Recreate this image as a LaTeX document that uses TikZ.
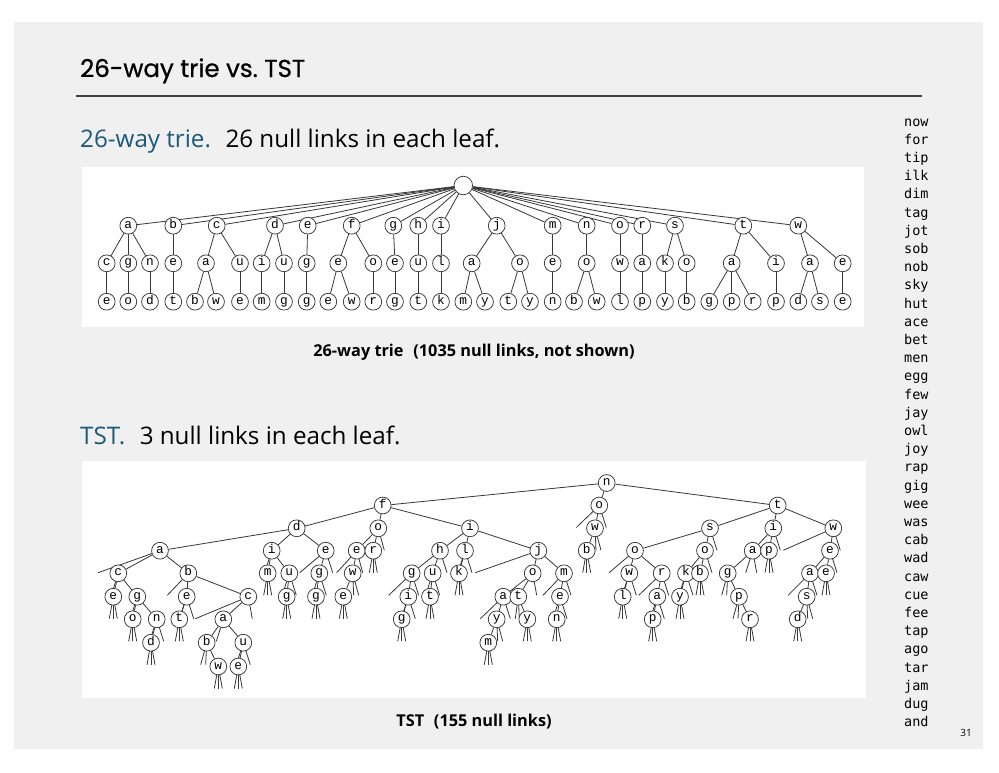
\documentclass[tikz,border=0pt]{standalone}
\usepackage{fontspec}
\setmainfont{Open Sans}
\newfontfamily\titlefont[FakeBold=0.8]{Poppins}
\newfontfamily\letterfont{Liberation Mono}
\newfontfamily\wordfont{DejaVu Sans Mono}

\definecolor{slidegray}{RGB}{240,240,240}
\definecolor{headblue}{RGB}{30,88,122}
\definecolor{linkgray}{RGB}{55,55,55}

\pgfdeclarelayer{panel}
\pgfdeclarelayer{links}
\pgfsetlayers{panel,links,main}

\tikzset{
    keynode/.style={circle, draw=linkgray, fill=white, line width=0.75pt, inner sep=0pt,
        minimum size=16.8pt, text height=1.1ex, text depth=0.1ex,
        font=\letterfont\fontsize{12.8}{12.8}\selectfont},
    link/.style={draw=linkgray, line width=0.8pt},
    headline/.style={anchor=base west, inner sep=0pt, font=\fontsize{24.2}{24.2}\selectfont},
    caption/.style={anchor=base, inner sep=0pt, font=\bfseries\fontsize{16.3}{16.3}\selectfont},
}

\begin{document}
\begin{tikzpicture}[x=1pt, y=-1pt]
    \useasboundingbox (0,0) rectangle (999,772);
    \begin{pgfonlayer}{panel}
        \fill[slidegray] (14,22) rectangle (983,749);
        \fill[white] (82,167) rectangle (864,327);
        \fill[white] (82,461) rectangle (866,698);
    \end{pgfonlayer}

    % title and headings
    \node[anchor=base west, inner sep=0pt, font=\titlefont\fontsize{24.5}{24.5}\selectfont] (title) at (80,77) {26-way trie vs.\ TST};
    \draw[line width=1.2pt, black!75] (76,96) -- (922,96);
    \node[headline] (triehead) at (80,147) {\textcolor{headblue}{26-way trie.}\hspace{0.6em}26 null links in each leaf.};
    \node[caption] (triecap) at (474,356) {26-way trie\hspace{0.6em}(1035 null links, not shown)};
    \node[headline] (tsthead) at (80,444) {\textcolor{headblue}{TST.}\hspace{0.6em}3 null links in each leaf.};
    \node[caption] (tstcap) at (474,726) {TST\hspace{0.6em}(155 null links)};

    % keys, in insertion order
    \foreach \w [count=\k from 0] in {now,for,tip,ilk,dim,tag,jot,sob,nob,sky,hut,ace,bet,men,egg,few,jay,owl,joy,rap,gig,wee,was,cab,wad,caw,cue,fee,tap,ago,tar,jam,dug,and}
        \node[anchor=base west, inner sep=0pt, font=\wordfont\fontsize{13.5}{13.5}\selectfont] (key\k) at ({904},{126+18.2*\k}) {\w};
    \node[anchor=base, inner sep=0pt, font=\fontsize{10}{10}\selectfont] (pageno) at (966,736) {31};

    % 26-way trie
    \node[keynode, minimum size=18.5pt] (tr-root) at (463.3,185.5) {};
    \foreach \n/\x/\l in {tr-a/128.3/a, tr-b/173.3/b, tr-c/216.7/c, tr-d/275/d, tr-e/307.7/e,
        tr-f/351.7/f, tr-g/393.3/g, tr-h/418.3/h, tr-i/441/i, tr-j/496.7/j, tr-m/552.7/m,
        tr-n/586.7/n, tr-o/620/o, tr-r/642.3/r, tr-s/675/s, tr-t/743.3/t, tr-w/798.3/w}
    {
        \node[keynode] (\n) at (\x,225.7) {\l};
        \begin{pgfonlayer}{links}\draw[link] (tr-root) -- (\n);\end{pgfonlayer}
    }
    \foreach \n/\p/\x/\l in {tr-ac/tr-a/106.7/c, tr-ag/tr-a/128.3/g, tr-an/tr-a/150/n,
        tr-be/tr-b/173.3/e, tr-ca/tr-c/206/a, tr-cu/tr-c/240/u, tr-di/tr-d/261.7/i,
        tr-du/tr-d/284/u, tr-eg/tr-e/306.7/g, tr-fe/tr-f/338.3/e, tr-fo/tr-f/373.3/o,
        tr-ge/tr-g/395/e, tr-hu/tr-h/418.3/u, tr-il/tr-i/441/l, tr-ja/tr-j/471.7/a,
        tr-jo/tr-j/520/o, tr-me/tr-m/552.7/e, tr-no/tr-n/586.7/o, tr-ow/tr-o/620/w,
        tr-ra/tr-r/642.3/a, tr-sk/tr-s/665/k, tr-so/tr-s/686.7/o, tr-ta/tr-t/731.7/a,
        tr-ti/tr-t/776/i, tr-wa/tr-w/810/a, tr-we/tr-w/842.7/e}
    {
        \node[keynode] (\n) at (\x,263.3) {\l};
        \begin{pgfonlayer}{links}\draw[link] (\p) -- (\n);\end{pgfonlayer}
    }
    \foreach \n/\p/\x/\l in {tr-ace/tr-ac/106.7/e, tr-ago/tr-ag/128.3/o, tr-and/tr-an/150/d,
        tr-bet/tr-be/173.3/t, tr-cab/tr-ca/195/b, tr-caw/tr-ca/216/w, tr-cue/tr-cu/240/e,
        tr-dim/tr-di/261.7/m, tr-dug/tr-du/284/g, tr-egg/tr-eg/306.7/g, tr-fee/tr-fe/328.3/e,
        tr-few/tr-fe/351.7/w, tr-for/tr-fo/373.3/r, tr-geg/tr-ge/395/g, tr-hut/tr-hu/418.3/t,
        tr-ilk/tr-il/441/k, tr-jam/tr-ja/463.3/m, tr-jay/tr-ja/485/y, tr-jot/tr-jo/508.3/t,
        tr-joy/tr-jo/530/y, tr-men/tr-me/552.7/n, tr-nob/tr-no/574/b, tr-now/tr-no/596.7/w,
        tr-owl/tr-ow/620/l, tr-rap/tr-ra/642.3/p, tr-sky/tr-sk/665/y, tr-sob/tr-so/686.7/b,
        tr-tag/tr-ta/709.3/g, tr-tap/tr-ta/731.7/p, tr-tar/tr-ta/752.7/r, tr-tip/tr-ti/776/p,
        tr-wad/tr-wa/798.3/d, tr-was/tr-wa/820/s, tr-wee/tr-we/842.7/e}
    {
        \node[keynode] (\n) at (\x,301.7) {\l};
        \begin{pgfonlayer}{links}\draw[link] (\p) -- (\n);\end{pgfonlayer}
    }

    % TST
    \node[keynode] (ts-n) at (606.7,483) {n};
    \foreach \n/\p/\x/\y/\l in {ts-f/ts-n/382.7/505.5/f, ts-no/ts-n/599.3/505.5/o, ts-t/ts-n/777.7/505.5/t,
        ts-d/ts-f/296.7/528.3/d, ts-fo/ts-f/378.3/528.3/o, ts-fi/ts-f/470/528.3/i,
        ts-now/ts-no/595/528.3/w, ts-s/ts-t/710/528.3/s, ts-ti/ts-t/773.3/528.3/i, ts-tw/ts-t/833.3/528.3/w,
        ts-da/ts-d/160/550.7/a, ts-di/ts-d/271.7/550.7/i, ts-de/ts-d/325.7/550.7/e,
        ts-foe/ts-fo/356.7/550.7/e, ts-for/ts-fo/373.3/550.7/r, ts-h/ts-fi/440/550.7/h,
        ts-l/ts-fi/465/550.7/l, ts-j/ts-fi/538.3/550.7/j, ts-nob/ts-now/586.7/550.7/b,
        ts-so/ts-s/635/550.7/o, ts-sm/ts-s/705/550.7/o, ts-ta/ts-ti/752.7/550.7/a,
        ts-tip/ts-ti/769/550.7/p, ts-twe/ts-tw/830/550.7/e,
        ts-ac/ts-da/118.3/573.3/c, ts-ab/ts-da/188.3/573.3/b, ts-dim/ts-di/267.7/573.3/m,
        ts-du/ts-di/289.3/573.3/u, ts-eg/ts-de/319.3/573.3/g, ts-few/ts-foe/352.7/573.3/w,
        ts-hg/ts-h/411.7/573.3/g, ts-hu/ts-h/432.7/573.3/u, ts-ilk/ts-l/459/573.3/k,
        ts-jo/ts-j/532.7/573.3/o, ts-jm/ts-j/564/573.3/m, ts-ow/ts-so/629.3/573.3/w,
        ts-sr/ts-so/661.7/573.3/r, ts-sk/ts-sm/686/573.3/k, ts-sob/ts-sm/700/573.3/b,
        ts-tg/ts-ta/727.7/573.3/g, ts-wa/ts-twe/810/573.3/a, ts-wee/ts-twe/826/573.3/e,
        ts-ace/ts-ac/113.3/596.7/e, ts-ag/ts-ac/137.3/596.7/g, ts-be/ts-ab/186.7/596.7/e,
        ts-bc/ts-ab/248.3/596.7/c, ts-dug/ts-du/286.7/596.7/g, ts-egg/ts-eg/316/596.7/g,
        ts-fee/ts-few/343.3/596.7/e, ts-gi/ts-hg/408.3/596.7/i, ts-hut/ts-hu/430/596.7/t,
        ts-ja/ts-jo/503.3/596.7/a, ts-jt/ts-jo/518.3/596.7/t, ts-me/ts-jm/560/596.7/e,
        ts-owl/ts-ow/622.7/596.7/l, ts-ra/ts-sr/657.3/596.7/a, ts-sky/ts-sk/680/596.7/y,
        ts-tp/ts-tg/739/596.7/p, ts-ws/ts-wa/806.7/596.7/s,
        ts-ago/ts-ag/132.7/619.3/o, ts-an/ts-ag/156.7/619.3/n, ts-bet/ts-be/179.3/619.3/t,
        ts-ca/ts-bc/223.3/619.3/a, ts-gig/ts-gi/401.7/619.3/g, ts-jay/ts-ja/496.7/619.3/y,
        ts-joy/ts-jt/527.3/619.3/y, ts-men/ts-me/556.7/619.3/n, ts-rap/ts-ra/652.7/619.3/p,
        ts-tar/ts-tp/750/619.3/r, ts-wad/ts-ws/797.7/619.3/d,
        ts-and/ts-an/151/642.7/d, ts-cab/ts-ca/206.7/642.7/b, ts-cu/ts-ca/243.3/642.7/u,
        ts-jam/ts-jay/488.3/642.7/m,
        ts-caw/ts-cab/218.3/666.5/w, ts-cue/ts-cu/238.3/666.5/e}
    {
        \node[keynode] (\n) at (\x,\y) {\l};
        \begin{pgfonlayer}{links}\draw[link] (\p) -- (\n);\end{pgfonlayer}
    }
    % null links: three under every leaf, stubs elsewhere
    \begin{pgfonlayer}{links}
    \foreach \n in {ts-for, ts-nob, ts-tip, ts-dim, ts-ilk, ts-sob, ts-wee, ts-ace, ts-dug,
        ts-egg, ts-fee, ts-hut, ts-owl, ts-sky, ts-ago, ts-bet, ts-gig, ts-joy, ts-men,
        ts-rap, ts-tar, ts-wad, ts-and, ts-jam, ts-caw, ts-cue}
        \foreach \dx in {-4,0,4}
            \draw[link] (\n.center) -- ++(\dx,22);
    \foreach \n/\dx in {ts-no/-23, ts-no/7, ts-fo/6, ts-now/1, ts-now/6, ts-s/7, ts-ti/7,
        ts-tw/-50, ts-tw/7, ts-da/-62, ts-di/-7, ts-de/-26, ts-de/7, ts-foe/-20, ts-foe/6,
        ts-h/7, ts-l/-7, ts-l/7, ts-j/-63, ts-so/-26, ts-sm/7, ts-ta/-7, ts-ta/4, ts-twe/7,
        ts-ac/-7, ts-ab/-21, ts-du/-7, ts-du/7, ts-eg/-7, ts-eg/7, ts-few/1, ts-few/6,
        ts-hg/-23, ts-hg/7, ts-hu/-7, ts-hu/7, ts-jo/4, ts-jm/-21, ts-jm/7, ts-ow/-7, ts-ow/7,
        ts-sr/-23, ts-sr/7, ts-sk/-7, ts-sk/7, ts-tg/-6, ts-tg/-1, ts-wa/-22, ts-wa/7,
        ts-ag/-7, ts-be/-7, ts-be/7, ts-bc/-53, ts-bc/4, ts-gi/-7, ts-gi/7, ts-ja/-23, ts-ja/7,
        ts-jt/-3, ts-jt/1, ts-me/-7, ts-me/7, ts-ra/-7, ts-ra/7, ts-tp/-6, ts-tp/-1,
        ts-ws/1, ts-ws/6, ts-an/-7, ts-an/7, ts-ca/-7, ts-jay/1, ts-jay/6,
        ts-cab/-6, ts-cab/-1, ts-cu/-7, ts-cu/7}
        \draw[link] (\n.center) -- ++(\dx,22);
    \end{pgfonlayer}
\end{tikzpicture}
\end{document}
